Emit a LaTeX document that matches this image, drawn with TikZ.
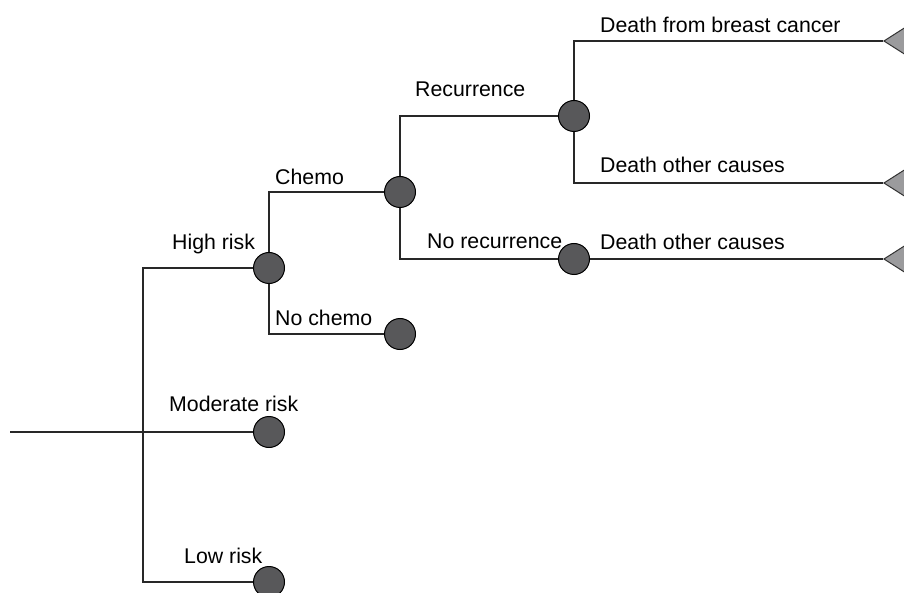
\documentclass[tikz,border=0pt]{standalone}
\usepackage{fontspec}
\setmainfont{Liberation Sans}
\usetikzlibrary{shapes.geometric}
\definecolor{nodeCol}{RGB}{88,88,90}
\definecolor{endCol}{RGB}{155,155,157}
\definecolor{lineCol}{RGB}{40,40,40}
\tikzset{
  chance/.style={circle,draw=black,fill=nodeCol,line width=1pt,
                 minimum size=31pt,inner sep=0pt},
  outcome/.style={isosceles triangle,isosceles triangle apex angle=65,
                  shape border rotate=180,draw=black!80,fill=endCol,
                  line width=1pt,minimum height=60pt,minimum width=60pt,
                  inner sep=0pt,anchor=apex},
  branch/.style={draw=lineCol,line width=1.2pt},
  lab/.style={inner sep=0pt,anchor=base west,font=\fontsize{21.3}{24}\selectfont},
}

\begin{document}
\begin{tikzpicture}[x=1pt,y=-1pt]
    \useasboundingbox (0,0) rectangle (904,593);
    % tree nodes
    \coordinate (root) at (10,432);
    \coordinate (split) at (143,432);
    \node[chance] (high) at (269,268) {};
    \node[chance] (mod) at (269,432) {};
    \node[chance] (low) at (269,582) {};
    \node[chance] (chemo) at (400,192) {};
    \node[chance] (nochemo) at (400,334) {};
    \node[chance] (rec) at (574,116) {};
    \node[chance] (norec) at (574,259) {};
    \node[outcome] (bc) at (883,41) {};
    \node[outcome] (oc1) at (883,183) {};
    \node[outcome] (oc2) at (883,259) {};
    % branches
    \draw[branch] (root) -- (mod);
    \draw[branch] (split) |- (high);
    \draw[branch] (split) |- (low);
    \draw[branch] (high) |- (chemo);
    \draw[branch] (high) |- (nochemo);
    \draw[branch] (chemo) |- (rec);
    \draw[branch] (chemo) |- (norec);
    \draw[branch] (rec) |- (bc);
    \draw[branch] (rec) |- (oc1);
    \draw[branch] (norec) -- (oc2);
    % labels
    \node[lab] (lhigh) at (172,250) {High risk};
    \node[lab] (lmod) at (169,411) {Moderate risk};
    \node[lab] (llow) at (184,563) {Low risk};
    \node[lab] (lchemo) at (275,185) {Chemo};
    \node[lab] (lnochemo) at (275,326) {No chemo};
    \node[lab] (lrec) at (415,97) {Recurrence};
    \node[lab] (lnorec) at (427,249) {No recurrence};
    \node[lab] (lbc) at (600,33) {Death from breast cancer};
    \node[lab] (loc1) at (600,173) {Death other causes};
    \node[lab] (loc2) at (600,250) {Death other causes};
\end{tikzpicture}
\end{document}
